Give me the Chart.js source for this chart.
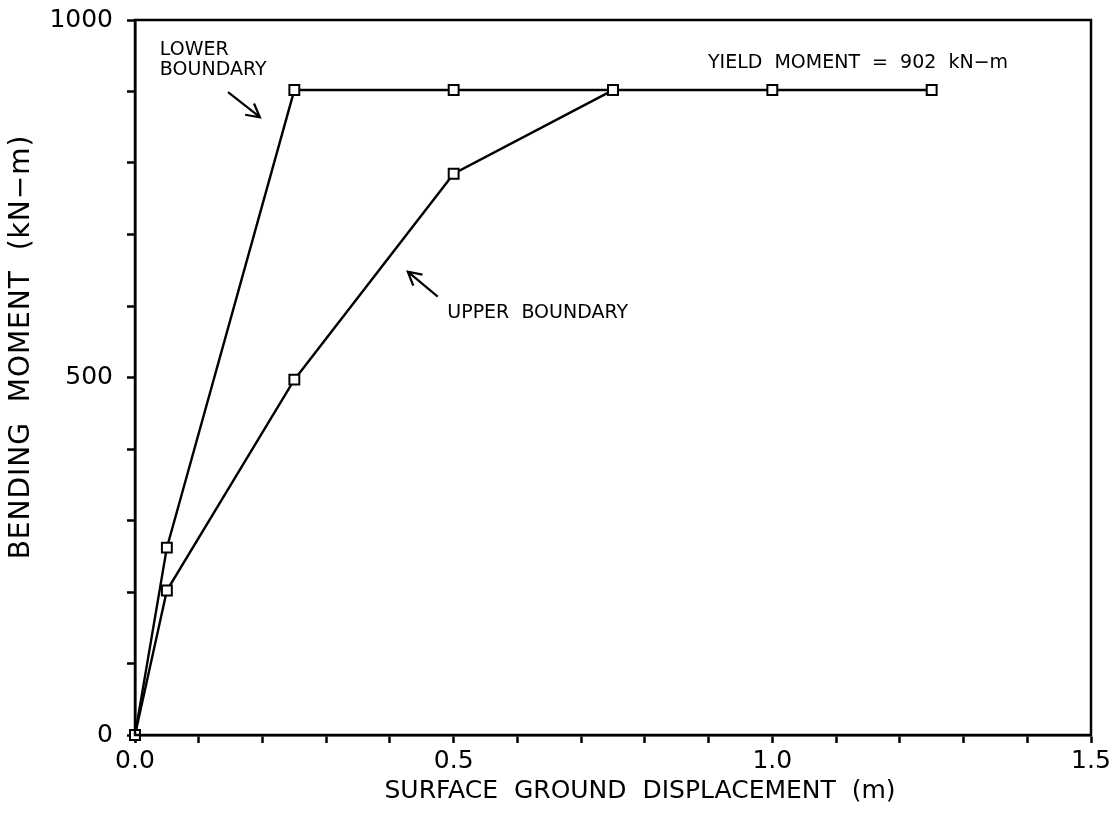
<!DOCTYPE html>
<html>
<head>
<meta charset="utf-8">
<script src="https://cdn.jsdelivr.net/npm/chart.js@4"></script>
<style>
  html, body { margin: 0; padding: 0; background: #fff; }
  #box { width: 1112px; height: 814px; }
</style>
</head>
<body>
<div id="box"><canvas id="myChart"></canvas></div>
<script>
// dati
const lowerX = [0, 0.05, 0.25, 0.5, 0.75, 1.0, 1.25]
const lowerY = [0, 262, 902, 902, 902, 902, 902]
const upperX = [0, 0.05, 0.25, 0.5, 0.75]
const upperY = [0, 202, 497, 785, 902]
const xTicks = [0.0, 0.5, 1.0, 1.5]
const yTicks = [0, 500, 1000]

const FONT = "'DejaVu Sans', sans-serif"

function pts(xs, ys) {
  return xs.map((x, i) => ({ x: x, y: ys[i] }))
}

// scritte e frecce, in coordinate dei dati
const notes = [
  { text: ['LOWER', 'BOUNDARY'], x: 0.039, y: 958 },
  { text: ['UPPER  BOUNDARY'], x: 0.49, y: 590 },
  { text: ['YIELD  MOMENT  =  902  kN\u2212m'], x: 0.899, y: 940 }
]
const arrows = [
  { from: [0.146, 899], to: [0.196, 864] },
  { from: [0.475, 613], to: [0.428, 648] }
]

const decor = {
  id: 'decor',
  afterDraw(chart) {
    const c = chart.ctx
    const a = chart.chartArea
    const sx = chart.scales.x
    const sy = chart.scales.y
    c.save()
    c.strokeStyle = '#000'
    c.lineWidth = 2.5
    c.strokeRect(a.left, a.top, a.right - a.left, a.bottom - a.top)

    c.fillStyle = '#000'
    c.font = '19px ' + FONT
    c.textBaseline = 'middle'
    c.textAlign = 'left'
    notes.forEach(n => {
      n.text.forEach((t, k) => {
        c.fillText(t, sx.getPixelForValue(n.x), sy.getPixelForValue(n.y) + k * 20)
      })
    })

    c.lineWidth = 2.2
    arrows.forEach(ar => {
      const x1 = sx.getPixelForValue(ar.from[0]), y1 = sy.getPixelForValue(ar.from[1])
      const x2 = sx.getPixelForValue(ar.to[0]), y2 = sy.getPixelForValue(ar.to[1])
      const ang = Math.atan2(y2 - y1, x2 - x1)
      c.beginPath()
      c.moveTo(x1, y1)
      c.lineTo(x2, y2)
      c.moveTo(x2 - 15 * Math.cos(ang - 0.5), y2 - 15 * Math.sin(ang - 0.5))
      c.lineTo(x2, y2)
      c.lineTo(x2 - 15 * Math.cos(ang + 0.5), y2 - 15 * Math.sin(ang + 0.5))
      c.stroke()
    })

    // titoli degli assi
    c.font = '25px ' + FONT
    c.textAlign = 'center'
    c.fillText('SURFACE  GROUND  DISPLACEMENT  (m)', 640, 791)
    c.translate(22, 347)
    c.rotate(-Math.PI / 2)
    c.font = '28px ' + FONT
    c.letterSpacing = '1px'
    c.fillText('BENDING  MOMENT  (kN\u2212m)', 0, 0)
    c.restore()
  }
}

const ctx = document.getElementById('myChart').getContext('2d')
const myChart = new Chart(ctx, {
  type: 'scatter',
  data: {
    datasets: [{
      label: 'Lower boundary',
      data: pts(lowerX, lowerY),
      showLine: true,
      clip: false,
      borderColor: '#000',
      borderWidth: 2.4,
      pointStyle: 'rect',
      pointRadius: 7,
      pointBackgroundColor: '#fff',
      pointBorderColor: '#000',
      pointBorderWidth: 2
    }, {
      label: 'Upper boundary',
      data: pts(upperX, upperY),
      showLine: true,
      clip: false,
      borderColor: '#000',
      borderWidth: 2.4,
      pointStyle: 'rect',
      pointRadius: 7,
      pointBackgroundColor: '#fff',
      pointBorderColor: '#000',
      pointBorderWidth: 2
    }]
  },
  options: {
    responsive: true,
    maintainAspectRatio: false,
    animation: false,
    layout: { padding: { top: 20, right: 21, left: 0, bottom: 0 } },
    plugins: { legend: { display: false }, tooltip: { enabled: false } },
    scales: {
      x: {
        type: 'linear',
        min: 0, max: 1.5,
        afterFit(s) {
          s.height = 79
          s.paddingLeft = 0
          s.paddingRight = 0
        },
        afterBuildTicks(s) {
          const t = []
          for (let i = 0; i <= 15; i++) t.push({ value: i / 10 })
          s.ticks = t
        },
        grid: { drawOnChartArea: false, tickLength: 8, tickWidth: 2.5, color: '#000' },
        border: { color: '#000', width: 2.5 },
        ticks: {
          color: '#000',
          padding: 3,
          maxRotation: 0,
          autoSkip: false,
          font: { family: FONT, size: 25 },
          callback(v) {
            const m = xTicks.find(t => Math.abs(t - v) < 1e-6)
            return m === undefined ? '' : m.toFixed(1)
          }
        }
      },
      y: {
        type: 'linear',
        min: 0, max: 1000,
        afterFit(s) {
          s.width = 135
          s.paddingTop = 0
          s.paddingBottom = 0
        },
        afterBuildTicks(s) {
          const t = []
          for (let i = 0; i <= 10; i++) t.push({ value: i * 100 })
          s.ticks = t
        },
        grid: { drawOnChartArea: false, tickLength: 8, tickWidth: 2.5, color: '#000' },
        border: { color: '#000', width: 2.5 },
        ticks: {
          color: '#000',
          padding: 14,
          autoSkip: false,
          font: { family: FONT, size: 25 },
          callback(v) {
            return yTicks.includes(v) ? String(v) : ''
          }
        }
      }
    }
  },
  plugins: [decor]
})
</script>
</body>
</html>
